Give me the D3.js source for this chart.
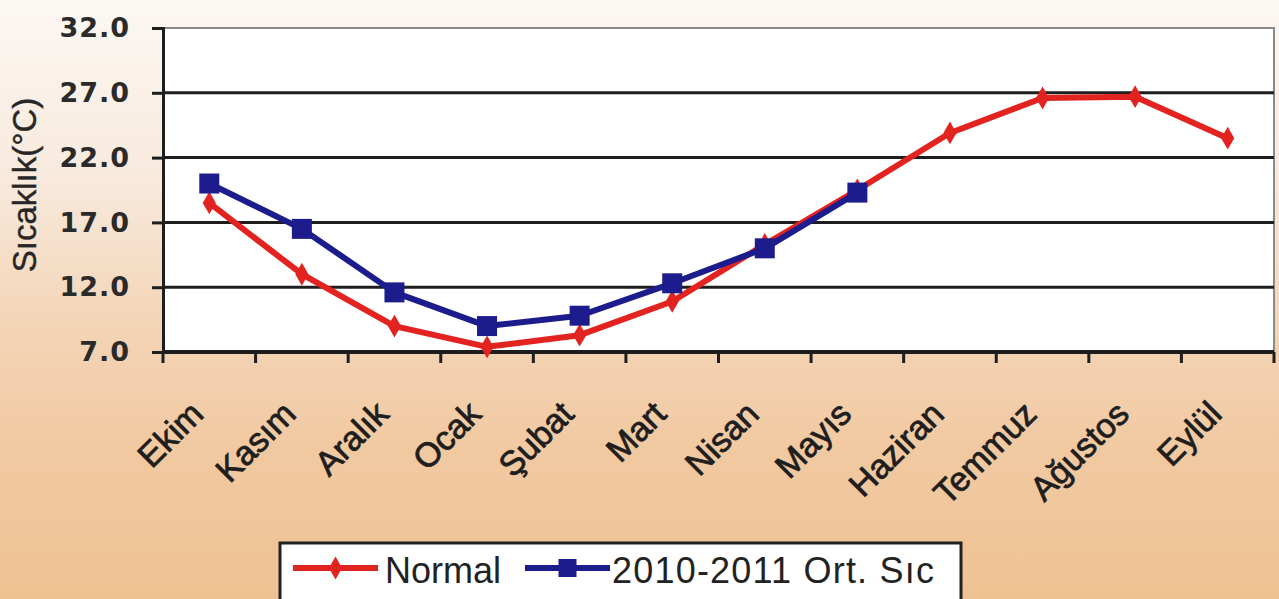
<!DOCTYPE html>
<html>
<head>
<meta charset="utf-8">
<script src="https://cdn.jsdelivr.net/npm/d3@7/dist/d3.min.js"></script>
<style>
  html, body { margin: 0; padding: 0; }
  body { width: 1279px; height: 599px; overflow: hidden; }
</style>
</head>
<body>
<svg id="chart" width="1279" height="599"></svg>
<script>
const months = ["Ekim", "Kasım", "Aralık", "Ocak", "Şubat", "Mart", "Nisan", "Mayıs", "Haziran", "Temmuz", "Ağustos", "Eylül"];
const normalValues = [18.5, 13.0, 9.0, 7.4, 8.3, 10.9, 15.3, 19.5, 23.9, 26.6, 26.7, 23.5];
const observedValues = [20.0, 16.5, 11.6, 9.0, 9.8, 12.3, 15.0, 19.3];
const yTicks = [7, 12, 17, 22, 27, 32];
const seriesNames = ["Normal", "2010-2011 Ort. Sıc"];
const yTitle = "Sıcaklık(°C)";

const svg = d3.select("#chart");
const W = 1279, H = 599;
const plot = { left: 163, right: 1274, top: 28, bottom: 352 };

const defs = svg.append("defs");
const grad = defs.append("linearGradient").attr("id", "bg").attr("x1", 0).attr("y1", 0).attr("x2", 0).attr("y2", 1);
[["0%", "#fcf8f4"], ["30%", "#f8e9dc"], ["55%", "#f3d4b6"], ["75%", "#f1c9a1"], ["100%", "#efc293"]]
  .forEach(([o, c]) => grad.append("stop").attr("offset", o).attr("stop-color", c));
svg.append("rect").attr("width", W).attr("height", H).attr("fill", "url(#bg)");

const x = d3.scaleBand().domain(months).range([plot.left, plot.right]).padding(0);
const y = d3.scaleLinear().domain([7, 32]).range([plot.bottom, plot.top]);
const cx = m => x(m) + x.bandwidth() / 2;

// plot area
svg.append("rect").attr("x", plot.left).attr("y", plot.top)
  .attr("width", plot.right - plot.left).attr("height", plot.bottom - plot.top)
  .attr("fill", "#ffffff").attr("stroke", "#8a8a8a").attr("stroke-width", 2);

// gridlines
svg.append("g").selectAll("line").data(yTicks.filter(v => v > 7 && v < 32)).join("line")
  .attr("x1", plot.left).attr("x2", plot.right)
  .attr("y1", d => y(d)).attr("y2", d => y(d))
  .attr("stroke", "#1e1e1e").attr("stroke-width", 3);

// y axis
const yAxis = d3.axisLeft(y).tickValues(yTicks).tickFormat(d3.format(".1f")).tickSize(11).tickPadding(22);
const gy = svg.append("g").attr("transform", `translate(${plot.left},0)`).call(yAxis);
gy.select(".domain").attr("stroke", "#1e1e1e").attr("stroke-width", 3);
gy.selectAll(".tick line").attr("stroke", "#1e1e1e").attr("stroke-width", 3);
gy.selectAll(".tick text")
  .attr("font-family", "DejaVu Sans, sans-serif").attr("font-size", 27).attr("font-weight", "bold")
  .attr("letter-spacing", 1).attr("fill", "#2a2a2a");

// x axis line and ticks at band boundaries
const boundaries = months.map(m => x(m)).concat([plot.right]);
svg.append("line").attr("x1", plot.left).attr("x2", plot.right)
  .attr("y1", plot.bottom).attr("y2", plot.bottom)
  .attr("stroke", "#1e1e1e").attr("stroke-width", 4);
svg.append("g").selectAll("line").data(boundaries).join("line")
  .attr("x1", d => d).attr("x2", d => d)
  .attr("y1", plot.bottom).attr("y2", plot.bottom + 11)
  .attr("stroke", "#1e1e1e").attr("stroke-width", 3);

// x labels
svg.append("g").selectAll("text").data(months).join("text")
  .attr("transform", d => `translate(${cx(d) - 4},${plot.bottom + 64}) rotate(-45)`)
  .attr("text-anchor", "end")
  .attr("font-family", "Liberation Sans, Arial, sans-serif")
  .attr("font-size", 34).attr("fill", "#1e1e1e")
  .attr("stroke", "#1e1e1e").attr("stroke-width", 0.8)
  .text(d => d);

// y title
svg.append("text")
  .attr("transform", `translate(36,185) rotate(-90)`)
  .attr("text-anchor", "middle")
  .attr("font-family", "Liberation Sans, Arial, sans-serif")
  .attr("font-size", 33).attr("fill", "#262626")
  .attr("stroke", "#262626").attr("stroke-width", 0.4)
  .text(yTitle);

const red = "#e3231f", blue = "#1c1c8c";
const line = d3.line().x(d => cx(d.m)).y(d => y(d.v));
const normalData = months.map((m, i) => ({ m, v: normalValues[i] }));
const obsData = observedValues.map((v, i) => ({ m: months[i], v }));

svg.append("path").datum(normalData).attr("d", line)
  .attr("fill", "none").attr("stroke", red).attr("stroke-width", 6).attr("stroke-linejoin", "round");
svg.append("g").selectAll("path").data(normalData).join("path")
  .attr("transform", d => `translate(${cx(d.m)},${y(d.v)})`)
  .attr("d", d3.symbol(d3.symbolDiamond, 150)).attr("fill", red);

svg.append("path").datum(obsData).attr("d", line)
  .attr("fill", "none").attr("stroke", blue).attr("stroke-width", 6).attr("stroke-linejoin", "round");
svg.append("g").selectAll("rect").data(obsData).join("rect")
  .attr("x", d => cx(d.m) - 10).attr("y", d => y(d.v) - 10)
  .attr("width", 20).attr("height", 20).attr("fill", blue);

// legend
const lg = svg.append("g");
lg.append("rect").attr("x", 280).attr("y", 543).attr("width", 681).attr("height", 60)
  .attr("fill", "#ffffff").attr("stroke", "#222").attr("stroke-width", 3);
const legendItems = [
  { name: seriesNames[0], color: red, x0: 293, x1: 378, text: 385, marker: "diamond" },
  { name: seriesNames[1], color: blue, x0: 525, x1: 610, text: 612, marker: "square" }
];
legendItems.forEach(it => {
  lg.append("line").attr("x1", it.x0).attr("x2", it.x1).attr("y1", 568).attr("y2", 568)
    .attr("stroke", it.color).attr("stroke-width", 6);
  const mx = (it.x0 + it.x1) / 2;
  if (it.marker === "diamond") {
    lg.append("path").attr("transform", `translate(${mx},568)`)
      .attr("d", d3.symbol(d3.symbolDiamond, 150)).attr("fill", it.color);
  } else {
    lg.append("rect").attr("x", mx - 9).attr("y", 559).attr("width", 18).attr("height", 18).attr("fill", it.color);
  }
  lg.append("text").attr("x", it.text).attr("y", 583)
    .attr("font-family", "Liberation Sans, Arial, sans-serif").attr("font-size", 36)
    .attr("letter-spacing", it.marker === "square" ? 1.2 : 0)
    .attr("fill", "#222").text(it.name);
});
</script>
</body>
</html>
